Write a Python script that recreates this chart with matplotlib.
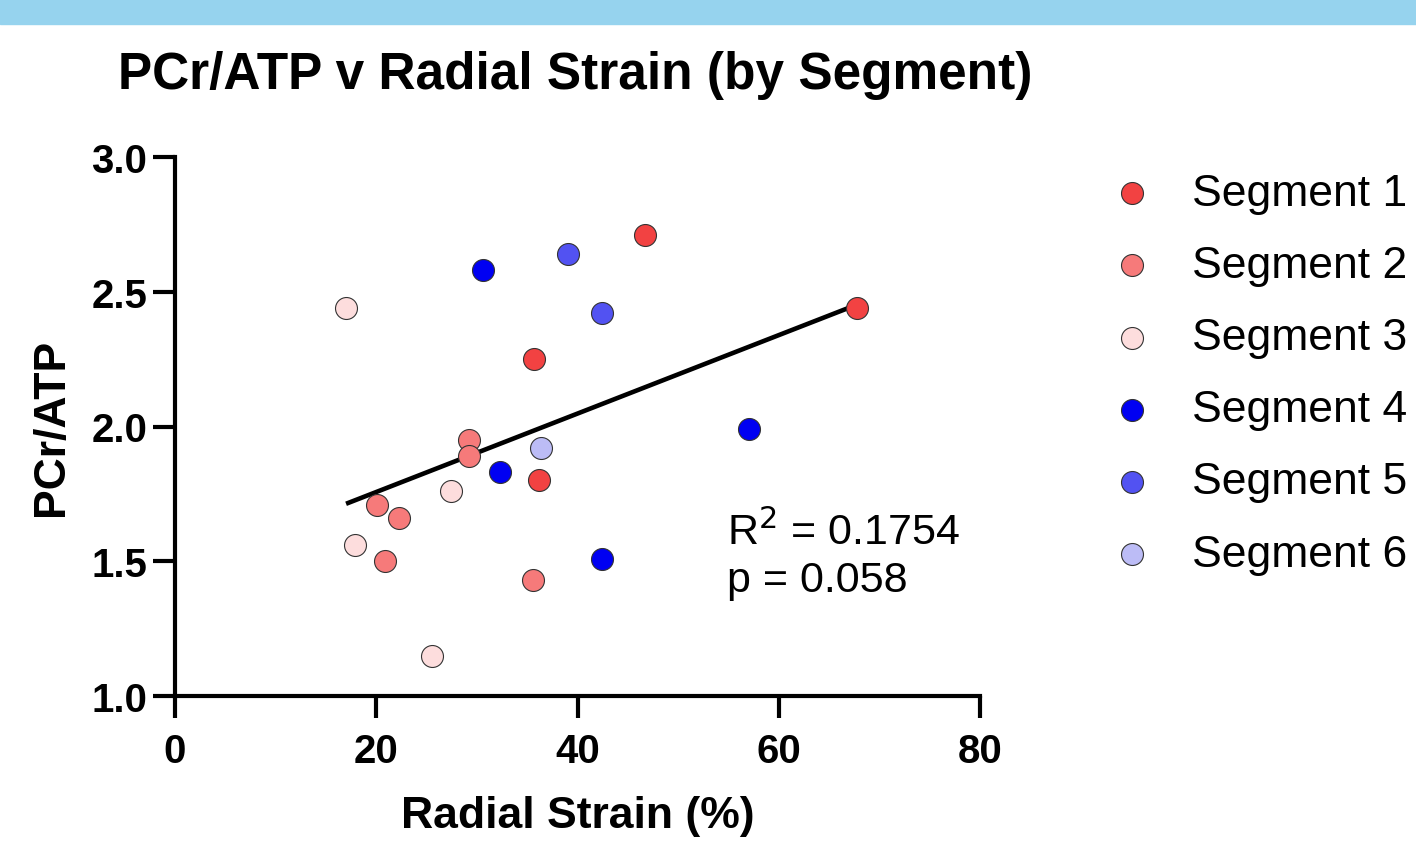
import matplotlib
matplotlib.use("Agg")
import matplotlib.pyplot as plt
import numpy as np

plt.rcParams["font.family"] = ["Liberation Sans", "DejaVu Sans"]

segments = ["Segment 1", "Segment 2", "Segment 3", "Segment 4", "Segment 5", "Segment 6"]
colors = ["#F24242", "#F67A7A", "#FDDDDD", "#0000F2", "#5252F2", "#BCBCF6"]

# radial strain (%) and PCr/ATP per segment
strain = [
    [46.7, 67.8, 35.7, 36.2],
    [29.2, 29.2, 20.1, 22.3, 20.9, 35.6],
    [17.0, 27.4, 17.9, 25.5],
    [30.6, 32.3, 57.0, 42.4],
    [39.1, 42.4],
    [36.4],
]
pcr_atp = [
    [2.71, 2.44, 2.25, 1.80],
    [1.95, 1.89, 1.71, 1.66, 1.50, 1.43],
    [2.44, 1.76, 1.56, 1.15],
    [2.58, 1.83, 1.99, 1.51],
    [2.64, 2.42],
    [1.92],
]

fig = plt.figure(figsize=(14.16, 8.53), dpi=100)
fig.patches.append(plt.Rectangle((0, 1 - 25 / 853), 1, 25 / 853, transform=fig.transFigure,
                                 color="#96D3EE", zorder=0))
ax = fig.add_axes([175 / 1416, 1 - 697 / 853, 805 / 1416, 539 / 853])

# linear fit over all points
all_x = np.concatenate([np.array(s) for s in strain])
all_y = np.concatenate([np.array(p) for p in pcr_atp])
slope, icpt = np.polyfit(all_x, all_y, 1)
xx = np.array([all_x.min(), all_x.max()])
ax.plot(xx, slope * xx + icpt, color="black", lw=3.3, zorder=2, solid_capstyle="butt")

for name, c, xs, ys in zip(segments, colors, strain, pcr_atp):
    ax.scatter(xs, ys, s=250, color=c, edgecolor="#333333", linewidth=0.8, zorder=3, label=name)

ax.set_xlim(0, 80)
ax.set_ylim(1.0, 3.0)
ax.set_xticks([0, 20, 40, 60, 80])
ax.set_yticks([1.0, 1.5, 2.0, 2.5, 3.0])
ax.set_yticklabels(["1.0", "1.5", "2.0", "2.5", "3.0"])
for s in ["top", "right"]:
    ax.spines[s].set_visible(False)
for s in ["left", "bottom"]:
    ax.spines[s].set_linewidth(3)
ax.tick_params(width=3, length=16, labelsize=29)
ax.tick_params(axis="x", pad=10)
ax.tick_params(axis="y", pad=4)
for lab in ax.get_xticklabels() + ax.get_yticklabels():
    lab.set_fontweight("bold")

ax.set_xlabel("Radial Strain (%)", fontsize=32, fontweight="bold", labelpad=18)
ax.set_ylabel("PCr/ATP", fontsize=32, fontweight="bold", labelpad=14)

ax.text(54.9, 1.564, "R$^2$ = 0.1754", fontsize=31, va="baseline")
ax.text(54.9, 1.39, "p = 0.058", fontsize=31, va="baseline")

fig.text(118 / 1416, 1 - 75 / 853, "PCr/ATP v Radial Strain (by Segment)", fontsize=37,
         fontweight="bold", va="center")

ax.legend(loc="upper left", bbox_to_anchor=(1105 / 1416, 1 - 174 / 853), bbox_transform=fig.transFigure,
          frameon=False, fontsize=32, markerscale=1.0, handlelength=1.2, handletextpad=0.75,
          labelspacing=0.7, borderaxespad=0, borderpad=0)

fig.savefig("out.png", dpi=100)
